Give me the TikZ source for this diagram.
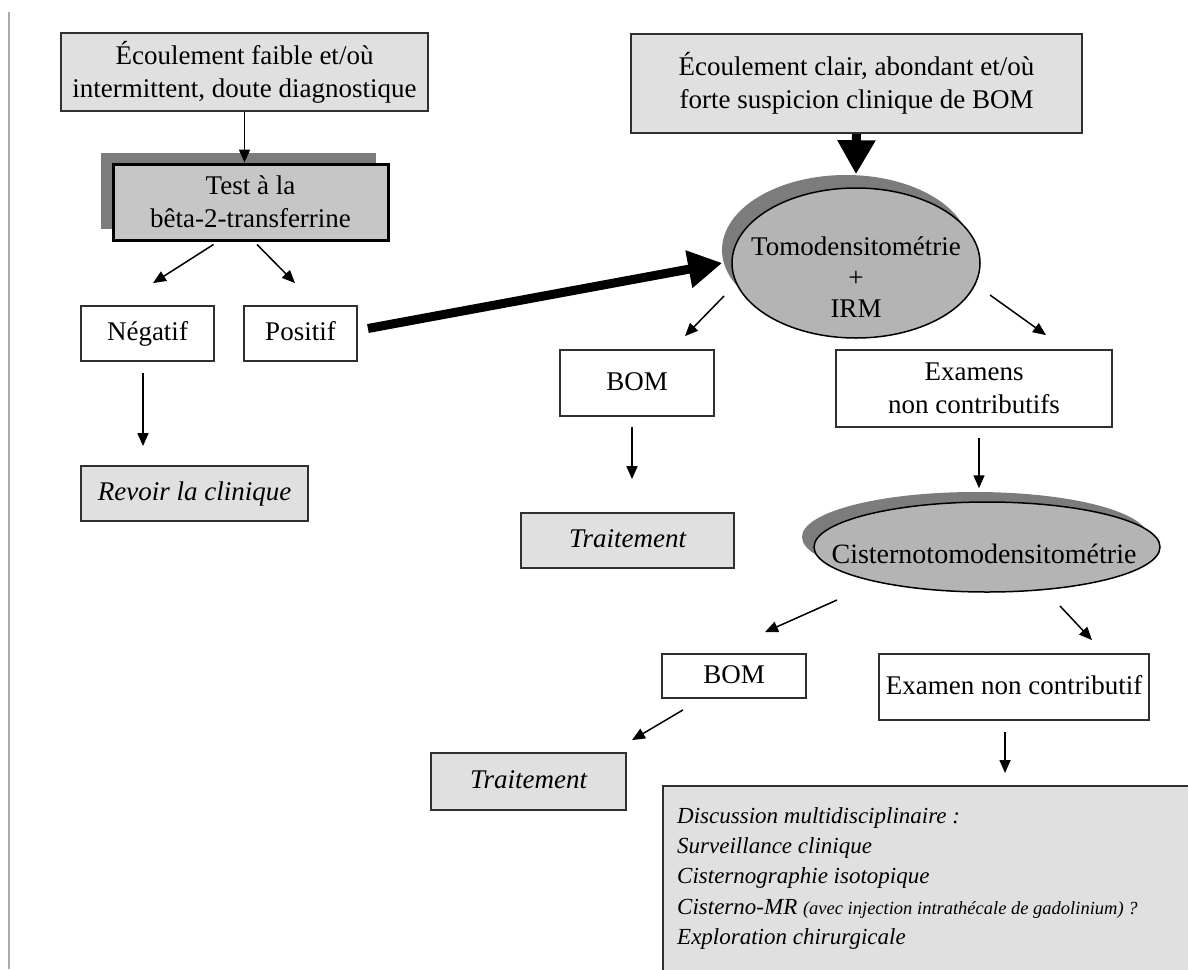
\documentclass[tikz,border=0pt]{standalone}
\usepackage{fontspec}
\setmainfont{Liberation Serif}
\usetikzlibrary{arrows.meta,positioning,calc,shapes.geometric,shadows}

\definecolor{boxgray}{HTML}{E0E0E0}
\definecolor{testgray}{HTML}{C6C6C6}
\definecolor{ovalgray}{HTML}{B4B4B4}
\definecolor{shadegray}{HTML}{7C7C7C}
\definecolor{edgegray}{HTML}{303030}

\newcommand{\boxfont}{\fontsize{27}{33}\selectfont}
\newcommand{\discfont}{\fontsize{23}{30.3}\selectfont}

\tikzset{
  greybox/.style={draw=edgegray, line width=1.8pt, fill=boxgray, inner sep=0pt, align=center, font=\boxfont},
  whitebox/.style={draw=edgegray, line width=1.8pt, fill=white, inner sep=0pt, align=center, font=\boxfont},
  oneline/.style={text height=19pt, text depth=5pt},
  testbox/.style={draw=black, line width=3pt, fill=testgray, inner sep=0pt, align=center, font=\boxfont,
    drop shadow={shadow xshift=-12pt, shadow yshift=11pt, fill=shadegray, opacity=1}},
  oval/.style={ellipse, draw=black, line width=1.5pt, fill=ovalgray, inner sep=0pt},
  thinarrow/.style={-{Triangle[length=13pt,width=11pt]}, line width=1.5pt},
  bigarrow/.style={-{Triangle[length=34pt,width=36pt]}, line width=9pt},
}

\begin{document}
\begin{tikzpicture}[x=1pt, y=-1pt]
    \useasboundingbox (0,0) rectangle (1188,969);

    % Left margin rule
    \draw[line width=2.5pt, draw=gray!65] (9,12) -- (9,969);

    % Left branch: weak flow
    \node[greybox, minimum width=367pt, minimum height=78pt] (ecf) at (244.5,72)
        {Écoulement faible et/où\\intermittent, doute diagnostique};
    \node[testbox, minimum width=275pt, minimum height=76pt] (test) at (250.5,202)
        {Test à la\\bêta-2-transferrine};
    \node[whitebox, oneline, minimum width=133pt, minimum height=55pt] (neg) at (147.5,333.5) {Négatif};
    \node[whitebox, oneline, minimum width=113pt, minimum height=55pt] (pos) at (300.5,333.5) {Positif};
    \node[greybox, oneline, minimum width=227pt, minimum height=55pt] (revoir) at (194.5,493.5)
        {\itshape Revoir la clinique};

    % Right branch: clear flow
    \node[greybox, minimum width=451pt, minimum height=99pt] (ecc) at (856.5,83.5)
        {Écoulement clair, abondant et/où\\forte suspicion clinique de BOM};
    \node[oval, minimum width=248pt, minimum height=150pt,
        drop shadow={shadow xshift=-10pt, shadow yshift=13pt, fill=shadegray, opacity=1}] (tomo) at (856,263) {};
    \node[align=center, font=\fontsize{27}{31}\selectfont] (tomotext) at ($(tomo.center)+(0,14)$)
        {Tomodensitométrie\\+\\IRM};
    \node[whitebox, oneline, minimum width=154pt, minimum height=66pt] (bom1) at (637,383) {BOM};
    \node[greybox, oneline, minimum width=213pt, minimum height=55pt] (trait1) at (627.5,540.5)
        {\itshape Traitement};
    \node[whitebox, minimum width=276pt, minimum height=77pt] (exs) at (974,388.5)
        {Examens\\non contributifs};
    \node[oval, minimum width=346pt, minimum height=90pt,
        drop shadow={shadow xshift=-12pt, shadow yshift=10pt, fill=shadegray, opacity=1}] (cist) at (987,547) {};
    \node[font=\fontsize{28}{33}\selectfont] (cisttext) at ($(cist.center)+(-3,7)$) {Cisternotomodensitométrie};
    \node[whitebox, oneline, minimum width=144pt, minimum height=44pt] (bom2) at (734,676) {BOM};
    \node[whitebox, oneline, minimum width=270pt, minimum height=66pt] (enc) at (1014,687)
        {Examen non contributif};
    \node[greybox, oneline, minimum width=195pt, minimum height=57pt] (trait2) at (528.5,781.5)
        {\itshape Traitement};

    % Final discussion box (runs off the page)
    \node[greybox, anchor=north west, minimum width=560pt, minimum height=220pt] (disc) at (662,785) {};
    \node[anchor=north west, align=left, inner sep=0pt, font=\discfont\itshape] (disctext)
        at ($(disc.north west)+(15,22)$)
        {Discussion multidisciplinaire :\\
         Surveillance clinique\\
         Cisternographie isotopique\\
         Cisterno-MR {\fontsize{18.5}{30.3}\selectfont (avec injection intrathécale de gadolinium) ?}\\
         Exploration chirurgicale};

    % Thin arrows
    \draw[thinarrow] (ecf.south) -- (ecf.south |- test.north);
    \draw[thinarrow] ($(test.south)+(-37,3)$) -- ($(neg.north)+(5.5,-22)$);
    \draw[thinarrow] ($(test.south)+(6.5,3)$) -- ($(pos.north)+(-5.5,-22)$);
    \draw[thinarrow] ($(neg.south)+(-4.5,11)$) -- ($(revoir.north)+(-51.5,-19)$);
    \draw[thinarrow] ($(tomo.center)+(-132,33)$) -- ($(bom1.north)+(48,-13)$);
    \draw[thinarrow] ($(tomo.center)+(134,32)$) -- ($(exs.north)+(72,-14)$);
    \draw[thinarrow] ($(bom1.south)+(-5,10)$) -- ($(trait1.north)+(4.5,-33)$);
    \draw[thinarrow] ($(exs.south)+(5,10)$) -- ($(cist.north)+(-8,-13)$);
    \draw[thinarrow] ($(cist.center)+(-150,53)$) -- ($(bom2.north)+(31,-21)$);
    \draw[thinarrow] ($(cist.center)+(73,59)$) -- ($(enc.north)+(78,-13)$);
    \draw[thinarrow] ($(bom2.south)+(-51,11)$) -- ($(trait2.north)+(103.5,-12)$);
    \draw[thinarrow] ($(enc.south)+(-9,11)$) -- ($(disc.north west)+(343,-12)$);

    % Thick arrows
    \draw[bigarrow] ($(pos.east)+(10,-5)$) -- ($(tomo.west)+(-9,0)$);
    \draw[bigarrow] (ecc.south) -- ($(tomo.north)+(0,-13)$);
\end{tikzpicture}
\end{document}
